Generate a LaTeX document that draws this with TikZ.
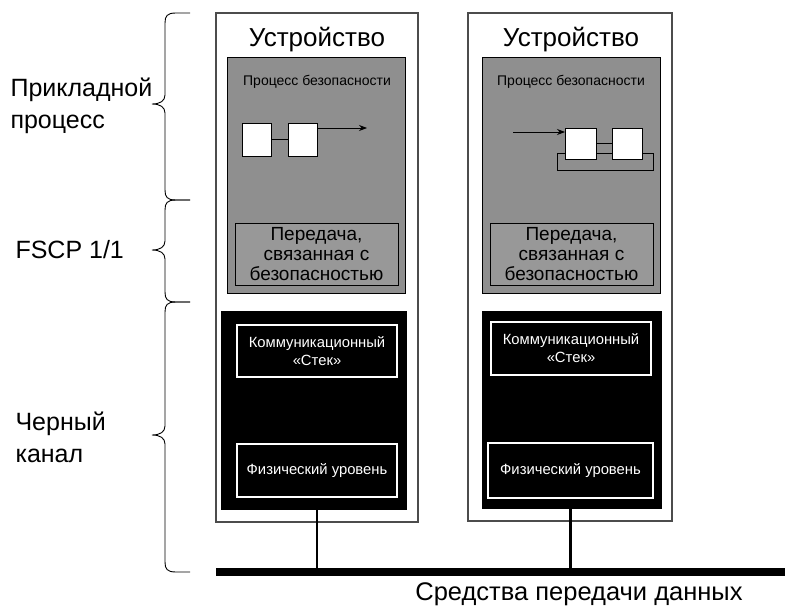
\documentclass[tikz,border=0pt]{standalone}
\usepackage{fontspec}
\setmainfont{Liberation Sans}
\usetikzlibrary{positioning,arrows.meta}
\definecolor{secgray}{gray}{0.56}
% brace: top y, tip y, bottom y
\newcommand{\sidebrace}[3]{%
  \draw[brc] (190,#1) -- (176,#1) .. controls (167,#1) and (165,#1+3) .. (165,#1+10)
    -- (165,#2-9) .. controls (165,#2-3) and (160,#2) .. (152,#2)
    .. controls (160,#2) and (165,#2+3) .. (165,#2+9)
    -- (165,#3-10) .. controls (165,#3-3) and (167,#3) .. (176,#3) -- (190,#3);}

\begin{document}
\begin{tikzpicture}[x=1pt, y=-1pt,
    box/.style={draw, anchor=north west, inner sep=0pt, outer sep=0pt},
    devbox/.style={box, draw=black!70, line width=1.3pt, fill=white},
    secbox/.style={box, fill=secgray, line width=1pt},
    sendbox/.style={box, fill=secgray!92!white, line width=1pt, align=center,
        font=\fontsize{19}{20}\selectfont},
    sqbox/.style={box, fill=white, line width=1pt},
    blkbox/.style={box, draw=none, fill=black},
    layerbox/.style={box, draw=white, fill=black, line width=1.8pt, text=white,
        align=center, font=\fontsize{14.8}{18}\selectfont},
    devtitle/.style={font=\fontsize{26}{30}\selectfont},
    proclabel/.style={font=\fontsize{14}{16}\selectfont},
    sidelabel/.style={anchor=west, align=left, font=\fontsize{25}{32}\selectfont},
    brc/.style={line width=0.9pt},
    flow/.style={-{Stealth[length=8pt, width=6pt]}, line width=0.8pt}]
    \useasboundingbox (0,0) rectangle (785,608);

    % left device
    \node[devbox, minimum width=202pt, minimum height=509pt] (dev1) at (216,13) {};
    \node[devtitle] (title1) at (317,40) {Устройство};
    \node[secbox, minimum width=178pt, minimum height=236pt] (sec1) at (227,57) {};
    \node[proclabel] (proc1) at (317,82) {Процесс безопасности};
    \node[sqbox, minimum width=29pt, minimum height=33pt] (sq1) at (242,123) {};
    \node[sqbox, minimum width=29pt, minimum height=33pt] (sq2) at (288,123) {};
    \draw[line width=0.8pt] (sq1.east) -- (sq2.west);
    \coordinate (out1) at (367,128);
    \draw[flow] (sq2.east |- out1) -- (out1);
    \node[sendbox, minimum width=163pt, minimum height=62pt] (send1) at (235,223)
        {Передача,\\связанная с\\безопасностью};
    \node[blkbox, minimum width=186pt, minimum height=199pt] (blk1) at (221,311) {};
    \node[layerbox, minimum width=160pt, minimum height=52pt] (stack1) at (237,325)
        {Коммуникационный\\«Стек»};
    \node[layerbox, minimum width=160pt, minimum height=53pt] (phys1) at (237,444)
        {Физический уровень};

    % right device
    \node[devbox, minimum width=204pt, minimum height=508pt] (dev2) at (468,13) {};
    \node[devtitle] (title2) at (571,40) {Устройство};
    \node[secbox, minimum width=178pt, minimum height=236pt] (sec2) at (482,57) {};
    \node[proclabel] (proc2) at (571,82) {Процесс безопасности};
    \node[box, line width=1pt, minimum width=96pt, minimum height=17pt] (tray) at (557,153) {};
    \node[sqbox, minimum width=31pt, minimum height=31pt] (sq3) at (565,128) {};
    \node[sqbox, minimum width=30pt, minimum height=31pt] (sq4) at (612,128) {};
    \draw[line width=0.8pt] (sq3.east) -- (sq4.west);
    \coordinate (in2) at (513,132);
    \draw[flow] (in2) -- (in2 -| sq3.west);
    \node[sendbox, minimum width=163pt, minimum height=62pt] (send2) at (490,223)
        {Передача,\\связанная с\\безопасностью};
    \node[blkbox, minimum width=180pt, minimum height=198pt] (blk2) at (482,311) {};
    \node[layerbox, minimum width=160pt, minimum height=53pt] (stack2) at (491,322)
        {Коммуникационный\\«Стек»};
    \node[layerbox, minimum width=165pt, minimum height=55pt] (phys2) at (488,443)
        {Физический уровень};

    % data medium
    \node[blkbox, minimum width=569pt, minimum height=8pt] (bus) at (216,568) {};
    \draw[line width=2.8pt] (phys1.south |- blk1.south) -- (phys1.south |- bus.north);
    \draw[line width=2.8pt] (phys2.south |- blk2.south) -- (phys2.south |- bus.north);
    \node[font=\fontsize{25.5}{28}\selectfont] (media) at (579,594) {Средства передачи данных};

    % layers on the left
    \sidebrace{13}{104}{200}
    \sidebrace{200}{250}{302}
    \sidebrace{302}{435}{572}
    \node[sidelabel] (app) at (7,106) {Прикладной\\процесс};
    \node[sidelabel] (fscp) at (12,250) {FSCP 1/1};
    \node[sidelabel] (black) at (12,437) {Черный\\канал};
\end{tikzpicture}
\end{document}
